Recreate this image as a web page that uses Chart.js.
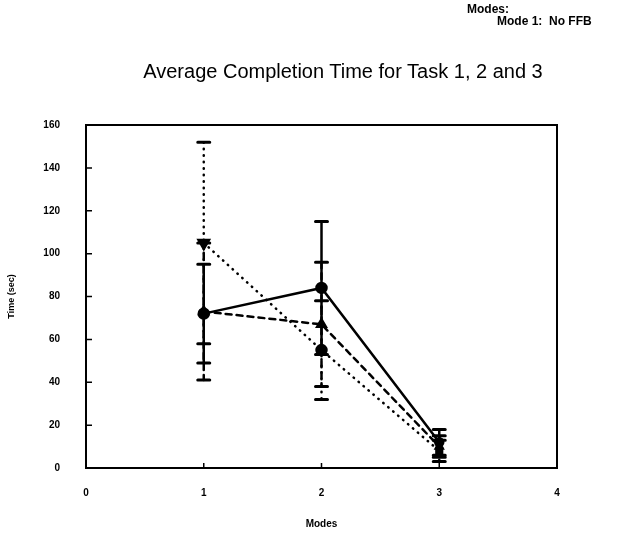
<!DOCTYPE html>
<html>
<head>
<meta charset="utf-8">
<script src="https://cdn.jsdelivr.net/npm/chart.js@4.4.1/dist/chart.umd.min.js"></script>
<style>
  body { margin: 0; background: #fff; }
  #wrap { position: relative; width: 621px; height: 534px; overflow: hidden; }
  #myChart { position: absolute; left: 0; top: 0; }
  .hdr { position: absolute; font-family: "Liberation Sans", Arial, sans-serif; font-weight: bold; font-size: 12px; color: #000; white-space: pre; }
  #title { position: absolute; left: 0; width: 686px; top: 60px; text-align: center;
           font-family: "Liberation Sans", Arial, sans-serif; font-size: 20px; color: #000; }
</style>
</head>
<body>
<div id="wrap">
  <canvas id="myChart" width="621" height="534"></canvas>
  <div class="hdr" style="left:467px; top:2px;">Modes:</div>
  <div class="hdr" style="left:497px; top:14px;">Mode 1:  No FFB</div>
  <div id="title">Average Completion Time for Task 1, 2 and 3</div>
</div>
<script>
// modes on the x axis
const modes = [1, 2, 3];
const xTicks = [0, 1, 2, 3, 4];
const yTicks = [0, 20, 40, 60, 80, 100, 120, 140, 160];

// mean completion time (sec) and error half-widths per series
const solidMean = [72, 84, 12];
const solidErr = [23, 31, 6];
const dashedMean = [73, 67, 10];
const dashedErr = [32, 29, 5];
const dottedMean = [105, 55, 8];
const dottedErr = [47, 23, 5];

function pts(ys) {
  return modes.map((m, i) => ({ x: m, y: ys[i] }));
}

const dashSolid = [];
const dashDashed = [6, 5];
const dashDotted = [0.5, 6];

// draws the error bars, the box frame and inward tick marks
const extras = {
  id: 'extras',
  afterDatasetsDraw(chart) {
    const ctx = chart.ctx;
    const xs = chart.scales.x, ys = chart.scales.y;
    chart.data.datasets.forEach(ds => {
      ctx.save();
      ctx.strokeStyle = '#000';
      ctx.lineCap = 'round';
      ds.data.forEach((p, i) => {
        const e = ds.errors[i];
        const px = xs.getPixelForValue(p.x);
        const top = ys.getPixelForValue(p.y + e);
        const bot = ys.getPixelForValue(p.y - e);
        ctx.lineWidth = ds.borderWidth;
        ctx.setLineDash(ds.borderDash);
        ctx.beginPath();
        ctx.moveTo(px, top);
        ctx.lineTo(px, bot);
        ctx.stroke();
        ctx.setLineDash([]);
        ctx.lineWidth = 3;
        ctx.beginPath();
        ctx.moveTo(px - 6, top); ctx.lineTo(px + 6, top);
        ctx.moveTo(px - 6, bot); ctx.lineTo(px + 6, bot);
        ctx.stroke();
      });
      ctx.restore();
    });

    const a = chart.chartArea;
    ctx.save();
    ctx.strokeStyle = '#000';
    ctx.lineWidth = 2;
    ctx.strokeRect(a.left, a.top, a.right - a.left, a.bottom - a.top);
    ctx.lineWidth = 1.5;
    ctx.beginPath();
    yTicks.forEach(v => {
      const py = ys.getPixelForValue(v);
      if (v > 0 && v < 160) { ctx.moveTo(a.left, py); ctx.lineTo(a.left + 6, py); }
    });
    xTicks.forEach(v => {
      const px = xs.getPixelForValue(v);
      if (v > 0 && v < 4) { ctx.moveTo(px, a.bottom); ctx.lineTo(px, a.bottom - 5); }
    });
    ctx.stroke();
    ctx.restore();
  }
};

const tickFont = { family: 'Liberation Sans', weight: 'bold', size: 10 };

const ctx1 = document.getElementById('myChart').getContext('2d');
const chart = new Chart(ctx1, {
  type: 'line',
  data: {
    datasets: [
      {
        label: 'Solid',
        data: pts(solidMean),
        errors: solidErr,
        borderColor: '#000',
        backgroundColor: '#000',
        borderWidth: 2.5,
        borderDash: dashSolid,
        pointStyle: 'circle',
        pointRadius: [5, 5, 4],
        pointBackgroundColor: '#000'
      },
      {
        label: 'Dashed',
        data: pts(dashedMean),
        errors: dashedErr,
        borderColor: '#000',
        backgroundColor: '#000',
        borderWidth: 2.5,
        borderDash: dashDashed,
        borderCapStyle: 'round',
        pointStyle: 'triangle',
        pointRadius: [5, 5, 4],
        pointBackgroundColor: '#000'
      },
      {
        label: 'Dotted',
        data: pts(dottedMean),
        errors: dottedErr,
        borderColor: '#000',
        backgroundColor: '#000',
        borderWidth: 2.5,
        borderDash: dashDotted,
        borderCapStyle: 'round',
        pointStyle: ['triangle', 'circle', 'rect'],
        pointRotation: [180, 0, 0],
        pointRadius: [6, 5, 4],
        pointBackgroundColor: '#000'
      }
    ]
  },
  options: {
    responsive: false,
    animation: false,
    layout: { padding: { top: 125, right: 64, bottom: 0, left: 0 } },
    plugins: {
      legend: { display: false },
      tooltip: { enabled: false }
    },
    scales: {
      x: {
        type: 'linear',
        min: 0,
        max: 4,
        afterBuildTicks: s => { s.ticks = xTicks.map(v => ({ value: v })); },
        afterFit: s => { s.height = 66; },
        grid: { display: false },
        border: { display: true, color: '#000', width: 2 },
        ticks: { color: '#000', font: tickFont, padding: 11 },
        title: { display: true, text: 'Modes', color: '#000', font: tickFont, padding: { top: 19 } }
      },
      y: {
        min: 0,
        max: 160,
        afterBuildTicks: s => { s.ticks = yTicks.map(v => ({ value: v })); },
        afterFit: s => { s.width = 86; },
        grid: { display: false },
        border: { display: true, color: '#000', width: 2 },
        ticks: { color: '#000', font: tickFont, padding: 18 },
        title: { display: true, text: 'Time (sec)', color: '#000', font: { family: 'Liberation Sans', weight: 'bold', size: 9 }, padding: { top: 6 } }
      }
    }
  },
  plugins: [extras]
});
</script>
</body>
</html>
